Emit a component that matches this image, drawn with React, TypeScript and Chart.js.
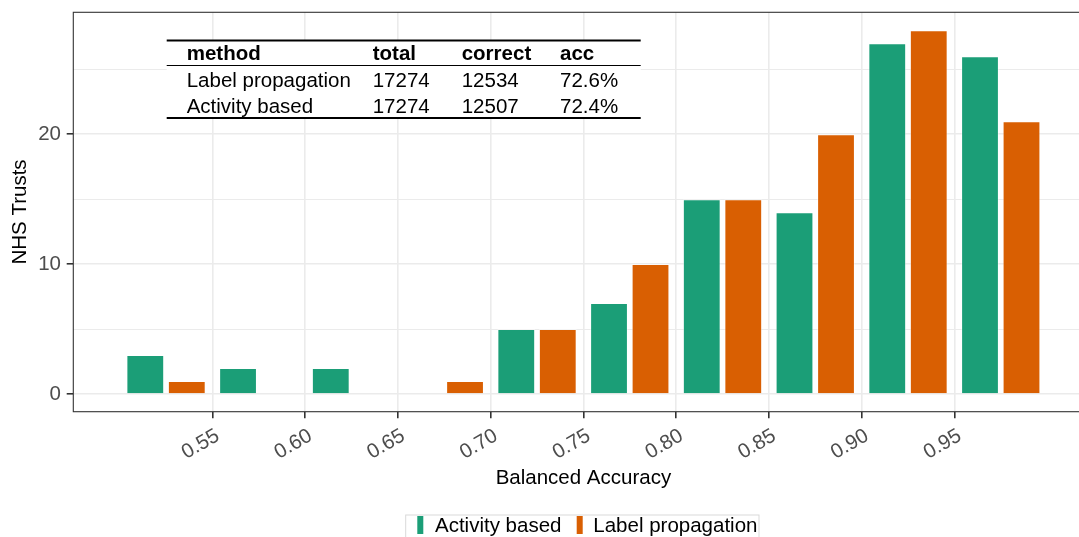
import React, { useEffect, useRef } from 'react';
import { Chart, registerables } from 'chart.js';

Chart.register(...registerables);

// ---------- data ----------
const binCenters = [0.525, 0.575, 0.625, 0.675, 0.725, 0.775, 0.825, 0.875, 0.925, 0.975];
const activityBased = [3, 2, 2, 0, 5, 7, 15, 14, 27, 26];
const labelPropagation = [1, 0, 0, 1, 5, 10, 15, 20, 28, 21];
const xTicks = [0.55, 0.6, 0.65, 0.7, 0.75, 0.8, 0.85, 0.9, 0.95];
const yTicks = [0, 5, 10, 15, 20, 25];
const yLabelTicks = [0, 10, 20];
const seriesNames = ['Activity based', 'Label propagation'];
const seriesColors = ['#1B9E77', '#D95F02'];
const tableHeader = ['method', 'total', 'correct', 'acc'];
const tableRows = [
  ['Label propagation', '17274', '12534', '72.6%'],
  ['Activity based', '17274', '12507', '72.4%'],
];
const xTitle = 'Balanced Accuracy';
const yTitle = 'NHS Trusts';

// ---------- layout constants ----------
const CANVAS_W = 1110;
const CANVAS_H = 537;
const PANEL_LEFT = 73.3;
const PANEL_TOP = 12.3;
const PANEL_BOTTOM = 411.7;
const PANEL_RIGHT = 1093.5;
const FONT = '"Liberation Sans", Arial, Helvetica, sans-serif';
const FS = 20.5;

const overlayPlugin = {
  id: 'overlay',
  afterDatasetsDraw(chart: any) {
    const { ctx, chartArea: a } = chart;
    ctx.save();
    // panel border
    ctx.strokeStyle = '#333333';
    ctx.lineWidth = 1.1;
    ctx.strokeRect(a.left, a.top, a.right - a.left, a.bottom - a.top);

    // table annotation
    const tx0 = 166.7;
    const tx1 = 640.7;
    ctx.fillStyle = '#ffffff';
    ctx.fillRect(tx0, 40, tx1 - tx0, 78);
    ctx.strokeStyle = '#000000';
    ctx.lineWidth = 2;
    ctx.beginPath();
    ctx.moveTo(tx0, 40.5);
    ctx.lineTo(tx1, 40.5);
    ctx.moveTo(tx0, 118);
    ctx.lineTo(tx1, 118);
    ctx.stroke();
    ctx.lineWidth = 1.1;
    ctx.beginPath();
    ctx.moveTo(tx0, 65.5);
    ctx.lineTo(tx1, 65.5);
    ctx.stroke();

    const colX = [186.7, 372.7, 461.7, 560];
    const rowY = [86.8, 112.8];
    ctx.fillStyle = '#000000';
    ctx.textAlign = 'left';
    ctx.textBaseline = 'alphabetic';
    ctx.font = `bold ${FS}px ${FONT}`;
    tableHeader.forEach((h, i) => ctx.fillText(h, colX[i], 59.8));
    ctx.font = `${FS}px ${FONT}`;
    tableRows.forEach((row, r) => {
      row.forEach((c, i) => ctx.fillText(c, colX[i], rowY[r]));
    });
    ctx.restore();
  },
  afterDraw(chart: any) {
    const { ctx, chartArea: a } = chart;
    ctx.save();
    ctx.fillStyle = '#000000';
    ctx.font = `${FS}px ${FONT}`;
    // x title
    ctx.textAlign = 'center';
    ctx.textBaseline = 'alphabetic';
    ctx.fillText(xTitle, (a.left + a.right) / 2, 483.5);
    // y title
    ctx.save();
    ctx.translate(19.9, (a.top + a.bottom) / 2);
    ctx.rotate(-Math.PI / 2);
    ctx.textBaseline = 'middle';
    ctx.fillText(yTitle, 0, 0);
    ctx.restore();

    // legend
    ctx.strokeStyle = '#d9d9d9';
    ctx.lineWidth = 1;
    ctx.strokeRect(405.7, 515, 759 - 405.7, 28);
    const keyX = [417.3, 576.7];
    const textX = [435, 593.3];
    seriesNames.forEach((n, i) => {
      ctx.fillStyle = seriesColors[i];
      ctx.fillRect(keyX[i], 516, 6, 18);
      ctx.fillStyle = '#000000';
      ctx.textAlign = 'left';
      ctx.textBaseline = 'alphabetic';
      ctx.fillText(n, textX[i], 531.7);
    });
    ctx.restore();
  },
};

export default function App() {
  const canvasRef = useRef<HTMLCanvasElement | null>(null);

  useEffect(() => {
    const canvas = canvasRef.current;
    if (!canvas) return;
    const datasets = [activityBased, labelPropagation].map((vals, si) => ({
      label: seriesNames[si],
      data: binCenters.map((x, i) => ({ x, y: vals[i] })),
      backgroundColor: seriesColors[si],
      borderColor: 'rgba(255,255,255,0.45)',
      borderWidth: 1,
      categoryPercentage: 0.895,
      barPercentage: 0.911,
    }));

    const chart = new Chart(canvas, {
      type: 'bar',
      data: { datasets },
      plugins: [overlayPlugin],
      options: {
        responsive: false,
        animation: false,
        events: [],
        devicePixelRatio: 1,
        layout: {
          padding: { left: 0, top: PANEL_TOP, right: CANVAS_W - PANEL_RIGHT, bottom: 0 },
        },
        plugins: {
          legend: { display: false },
          tooltip: { enabled: false },
          title: { display: false },
        },
        scales: {
          x: {
            type: 'linear',
            min: 0.475,
            max: 1.025,
            offset: false,
            afterBuildTicks: (scale: any) => {
              scale.ticks = xTicks.map((v) => ({ value: v }));
            },
            afterFit: (scale: any) => {
              scale.height = CANVAS_H - PANEL_BOTTOM;
              scale.paddingLeft = 0;
              scale.paddingRight = 0;
              scale.paddingTop = 0;
              scale.paddingBottom = 0;
            },
            border: { display: false },
            grid: {
              offset: false,
              color: '#EBEBEB',
              lineWidth: 1.6,
              drawTicks: true,
              tickLength: 6.6,
              tickColor: '#333333',
              tickWidth: 1.6,
            },
            ticks: {
              autoSkip: false,
              minRotation: 30,
              maxRotation: 30,
              padding: 5.5,
              labelOffset: 5.5,
              color: '#4D4D4D',
              font: { family: FONT, size: FS },
              callback: (v: any) => Number(v).toFixed(2),
            },
          },
          y: {
            type: 'linear',
            min: -1.36,
            max: 29.38,
            afterBuildTicks: (scale: any) => {
              scale.ticks = yTicks.map((v) => ({ value: v }));
            },
            afterFit: (scale: any) => {
              scale.width = PANEL_LEFT;
              scale.paddingTop = 0;
              scale.paddingBottom = 0;
              scale.paddingLeft = 0;
              scale.paddingRight = 0;
            },
            border: { display: false },
            grid: {
              color: '#EBEBEB',
              lineWidth: (c: any) => (c.tick && yLabelTicks.includes(c.tick.value) ? 1.6 : 1.1),
              drawTicks: true,
              tickLength: 6.6,
              tickColor: (c: any) =>
                c.tick && yLabelTicks.includes(c.tick.value) ? '#333333' : 'rgba(0,0,0,0)',
              tickWidth: 1.6,
            },
            ticks: {
              padding: 5.7,
              color: '#4D4D4D',
              font: { family: FONT, size: FS },
              callback: (v: any) => (yLabelTicks.includes(Number(v)) ? String(v) : ''),
            },
          },
        },
      } as any,
    });
    return () => chart.destroy();
  }, []);

  return (
    <div
      style={{
        position: 'fixed',
        left: 0,
        top: 0,
        width: 1079,
        height: 537,
        overflow: 'hidden',
        background: '#ffffff',
      }}
    >
      <canvas
        ref={canvasRef}
        width={CANVAS_W}
        height={CANVAS_H}
        style={{ display: 'block', width: CANVAS_W, height: CANVAS_H }}
      />
    </div>
  );
}
